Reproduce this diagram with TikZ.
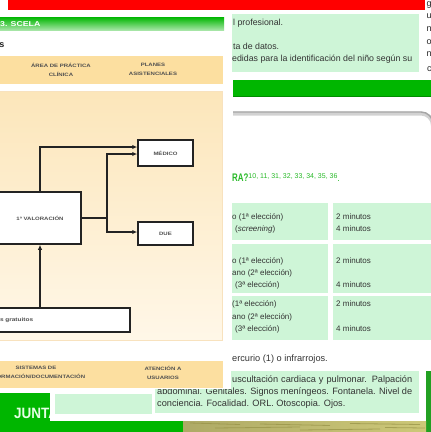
\documentclass[tikz,border=0pt]{standalone}
\usepackage{fontspec}
\setmainfont{Liberation Sans}
\newfontfamily\wideface[FakeStretch=1.25]{Liberation Sans}
\newfontfamily\narrowface[FakeStretch=0.72]{Liberation Sans}
\newfontfamily\juntaface[FakeStretch=0.9]{Liberation Sans}
\usetikzlibrary{arrows.meta}

\definecolor{pagered}{RGB}{255,0,0}
\definecolor{cellgreen}{RGB}{206,245,215}
\definecolor{bargreen}{RGB}{0,182,0}
\definecolor{bardark}{RGB}{0,140,0}
\definecolor{bandorange}{RGB}{252,223,160}
\definecolor{creamtop}{RGB}{252,230,186}
\definecolor{creambot}{RGB}{255,247,232}
\definecolor{creamedge}{RGB}{248,226,190}
\definecolor{titlegreen}{RGB}{40,185,40}
\definecolor{texlight}{RGB}{205,200,120}
\definecolor{texdark}{RGB}{150,145,70}
\definecolor{sidegreen}{RGB}{34,160,34}
\definecolor{ink}{RGB}{35,35,35}

\begin{document}
\begin{tikzpicture}[x=1pt,y=-1pt,
  flowbox/.style={draw=ink, line width=1.5pt, fill=white, inner sep=0pt,
    font=\wideface\bfseries\fontsize{4.8}{6}\selectfont, text=ink!80},
  link/.style={draw=ink, line width=1.3pt},
  arrowlink/.style={link, -{Latex[length=5pt,width=4.5pt]}},
  bandtext/.style={inner sep=0pt, align=center, text=ink!80,
    font=\wideface\bfseries\fontsize{4.8}{9}\selectfont},
  toptext/.style={anchor=base west, inner sep=0pt, text=black!80,
    font=\fontsize{8.8}{10}\selectfont},
  celltext/.style={anchor=base west, inner sep=0pt, text=black!80,
    font=\fontsize{8}{10}\selectfont},
  boxtext/.style={anchor=base west, inner sep=0pt, text=black!80,
    font=\fontsize{9.2}{11}\selectfont},
  sidetext/.style={anchor=base west, inner sep=0pt, text=black!85,
    font=\fontsize{9}{10}\selectfont}]
\useasboundingbox (0,0) rectangle (431,432);
\clip (0,0) rectangle (431,432);

% ---------- bottom strip: green band, white page edge, texture ----------
\fill[bargreen] (0,393) rectangle (431,432);
\node[anchor=base west, inner sep=0pt, text=white!90!green,
  font=\juntaface\bfseries\fontsize{15}{15}\selectfont] (junta) at (14,418) {JUNTA};
\fill[white] (50,393) rectangle (426,421);
\fill[sidegreen] (426,371) rectangle (431,432);
\shade[left color=texlight!85!black, right color=texlight] (183,421) rectangle (426,432);
\begin{scope}[texdark, line width=0.8pt, opacity=0.7]
  \draw (190,423) -- (240,424.5);
  \draw (215,428) -- (300,427);
  \draw (260,424) -- (330,425.5);
  \draw (300,430) -- (380,429);
  \draw (350,423.5) -- (420,424.5);
  \draw (385,427.5) -- (425,428);
\end{scope}

% ---------- right page ----------
\fill[cellgreen] (232,14) rectangle (419,72);
\node[toptext] (t1) at (233,25) {l profesional.};
\node[toptext] (t2) at (233,49) {ta de datos.};
\node[toptext] (t3) at (232,61) {edidas para la identificación del niño según su};

% next column, running off the page edge
\node[sidetext] (c0) at (426.5,6) {g};
\node[sidetext] (c1) at (426.5,18) {u};
\node[sidetext] (c2) at (426.5,31) {nl};
\node[sidetext] (c3) at (426.5,44) {o};
\node[sidetext] (c4) at (426.5,56) {n};
\node[sidetext] (c5) at (427,71) {c};

% section bar and rounded rule
\fill[bargreen] (233,80) rectangle (433,97);
\draw[bardark, line width=0.8pt] (233,96.6) -- (433,96.6);
\draw[gray!35, line width=4pt, rounded corners=12pt] (233,113.5) -- (433,113.5) -- (433,160);
\draw[gray!70, line width=1.4pt, rounded corners=12pt] (233,112) -- (433,112) -- (433,160);

% heading with references
\node[anchor=base west, inner sep=0pt, text=titlegreen] (head) at (232,181)
  {\narrowface\bfseries\fontsize{11}{12}\selectfont RA?\raisebox{2.5pt}{\normalfont\fontsize{7}{8}\selectfont 10, 11, 31, 32, 33, 34, 35, 36}\fontsize{9}{9}\selectfont\normalfont .};

% table
\fill[cellgreen] (232,203) rectangle (328,240);
\fill[cellgreen] (333,203) rectangle (431,240);
\fill[cellgreen] (232,244) rectangle (328,293);
\fill[cellgreen] (333,244) rectangle (431,293);
\fill[cellgreen] (232,296) rectangle (328,340);
\fill[cellgreen] (333,296) rectangle (431,340);

\node[celltext] (r1a) at (232,219) {o (1ª elección)};
\node[celltext] (r1b) at (235,231) {(\textit{screening})};
\node[celltext] (r1c) at (336,219) {2 minutos};
\node[celltext] (r1d) at (336,231) {4 minutos};

\node[celltext] (r2a) at (232,263) {o (1ª elección)};
\node[celltext] (r2b) at (232,275) {ano (2ª elección)};
\node[celltext] (r2c) at (235,287) {(3ª elección)};
\node[celltext] (r2d) at (336,263) {2 minutos};
\node[celltext] (r2e) at (336,287) {4 minutos};

\node[celltext] (r3a) at (232,306) {(1ª elección)};
\node[celltext] (r3b) at (232,319) {ano (2ª elección)};
\node[celltext] (r3c) at (235,331) {(3ª elección)};
\node[celltext] (r3d) at (336,306) {2 minutos};
\node[celltext] (r3e) at (336,331) {4 minutos};

\node[boxtext] (temp) at (232,361) {ercurio (1) o infrarrojos.};

% exploration box
\fill[cellgreen] (55,394) rectangle (152,414);
\fill[cellgreen] (155,371) rectangle (419,413);
\node[boxtext] (e1) at (232,382) {\makebox[180pt][s]{uscultación cardiaca y pulmonar. Palpación}};
\node[boxtext] (e2) at (157,394) {\makebox[255pt][s]{abdominal. Genitales. Signos meníngeos. Fontanela. Nivel de}};
\node[boxtext] (e3) at (157,406) {conciencia. Focalidad. ORL. Otoscopia. Ojos.};

% ---------- left page: flow chart ----------
\fill[white] (0,10) rectangle (231,389);
\shade[top color=bargreen, bottom color=bargreen!35] (-5,17) rectangle (224,30);
\node[anchor=base west, inner sep=0pt, text=white,
  font=\wideface\bfseries\fontsize{7}{8}\selectfont] (sect) at (0,26.5) {3. SCELA};
\node[anchor=base east, inner sep=0pt, text=ink,
  font=\bfseries\fontsize{9}{9}\selectfont] (frag) at (4.5,47) {s};

% upper band
\fill[bandorange] (-5,56) rectangle (223,84);
\node[bandtext] (area) at (61,69.5) {ÁREA DE PRÁCTICA\\CLÍNICA};
\node[bandtext] (planes) at (153,69.5) {PLANES\\ASISTENCIALES};

% working area
\shade[top color=creamtop, bottom color=creambot, draw=creamedge, line width=1pt]
  (-5,91) rectangle (222,340);

\node[flowbox, minimum width=55pt, minimum height=26pt] (medico) at (165.5,153) {MÉDICO};
\node[flowbox, minimum width=55pt, minimum height=23pt] (due) at (165.5,233.5) {DUE};
\node[flowbox, minimum width=82pt, minimum height=52pt] (valor) at (40,218) {1ª VALORACIÓN};
\node[flowbox, minimum width=140pt, minimum height=24pt, text width=136pt,
  inner xsep=2pt, align=left, font=\wideface\bfseries\fontsize{5.2}{6}\selectfont]
  (gratis) at (60,320) {\hspace*{8pt}s gratuitos};

\draw[arrowlink] (valor.north) |- ([yshift=6pt]medico.west);
\coordinate (split) at (107,218);
\draw[link] (valor.east) -- (split);
\draw[arrowlink] (split) |- ([yshift=-1pt]medico.west);
\draw[arrowlink] (split) |- ([yshift=1.5pt]due.west);
\draw[arrowlink] (gratis.north -| valor.south) -- (valor.south);

% lower band
\fill[bandorange] (-5,361) rectangle (223,388);
\node[bandtext] (sist) at (36,372.5) {SISTEMAS DE\\INFORMACIÓN/DOCUMENTACIÓN};
\node[bandtext] (aten) at (163,372.5) {ATENCIÓN A\\USUARIOS};

% ---------- top rule ----------
\fill[pagered] (8,0) rectangle (425,9.5);
\end{tikzpicture}
\end{document}
